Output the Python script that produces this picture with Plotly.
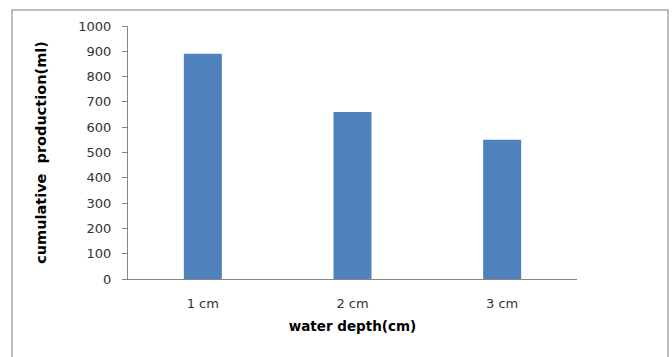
import plotly.graph_objects as go

# Cumulative production for each water depth
depths = ["1 cm", "2 cm", "3 cm"]
production_ml = [890, 660, 550]
y_ticks = list(range(0, 1001, 100))

W, H = 672, 357
L, R, T, B = 128, 95, 26, 78
plot_w = W - L - R
plot_h = H - T - B

fig = go.Figure(
    go.Bar(
        x=depths,
        y=production_ml,
        marker=dict(color="#4f81bd", line=dict(width=0)),
    )
)

# Outer chart frame (open at the bottom edge of the page)
fig.add_shape(
    type="rect",
    xref="paper", yref="paper",
    x0=(12 - L) / plot_w, x1=(668 - L) / plot_w,
    y0=(H - B - 365) / plot_h, y1=(H - B - 10) / plot_h,
    line=dict(color="#a6a6a6", width=1.5),
    fillcolor="rgba(0,0,0,0)",
    layer="below",
)

fig.update_layout(
    width=W, height=H,
    margin=dict(l=L, r=R, t=T, b=B),
    paper_bgcolor="white",
    plot_bgcolor="white",
    bargap=0.746,
    showlegend=False,
    font=dict(family="DejaVu Sans", size=13, color="#333333"),
)

fig.update_xaxes(
    showline=True, linecolor="#868686", linewidth=1,
    ticks="", showgrid=False,
    tickfont=dict(family="DejaVu Sans", size=13, color="#333333"),
    ticklabelstandoff=12,
    title=dict(
        text="water depth(cm)",
        font=dict(family="DejaVu Sans", size=13.5, color="#000000", weight="bold"),
        standoff=11,
    ),
)

fig.update_yaxes(
    range=[0, 1000],
    tickvals=y_ticks,
    showline=True, linecolor="#868686", linewidth=1,
    ticks="outside", ticklen=5, tickcolor="#868686",
    showgrid=False, zeroline=False,
    tickfont=dict(family="DejaVu Sans", size=13, color="#333333"),
    ticklabelstandoff=8,
    title=dict(
        text="cumulative  production(ml)",
        font=dict(family="DejaVu Sans", size=14.5, color="#000000", weight="bold"),
        standoff=28,
    ),
)

fig.write_html("out.html")
